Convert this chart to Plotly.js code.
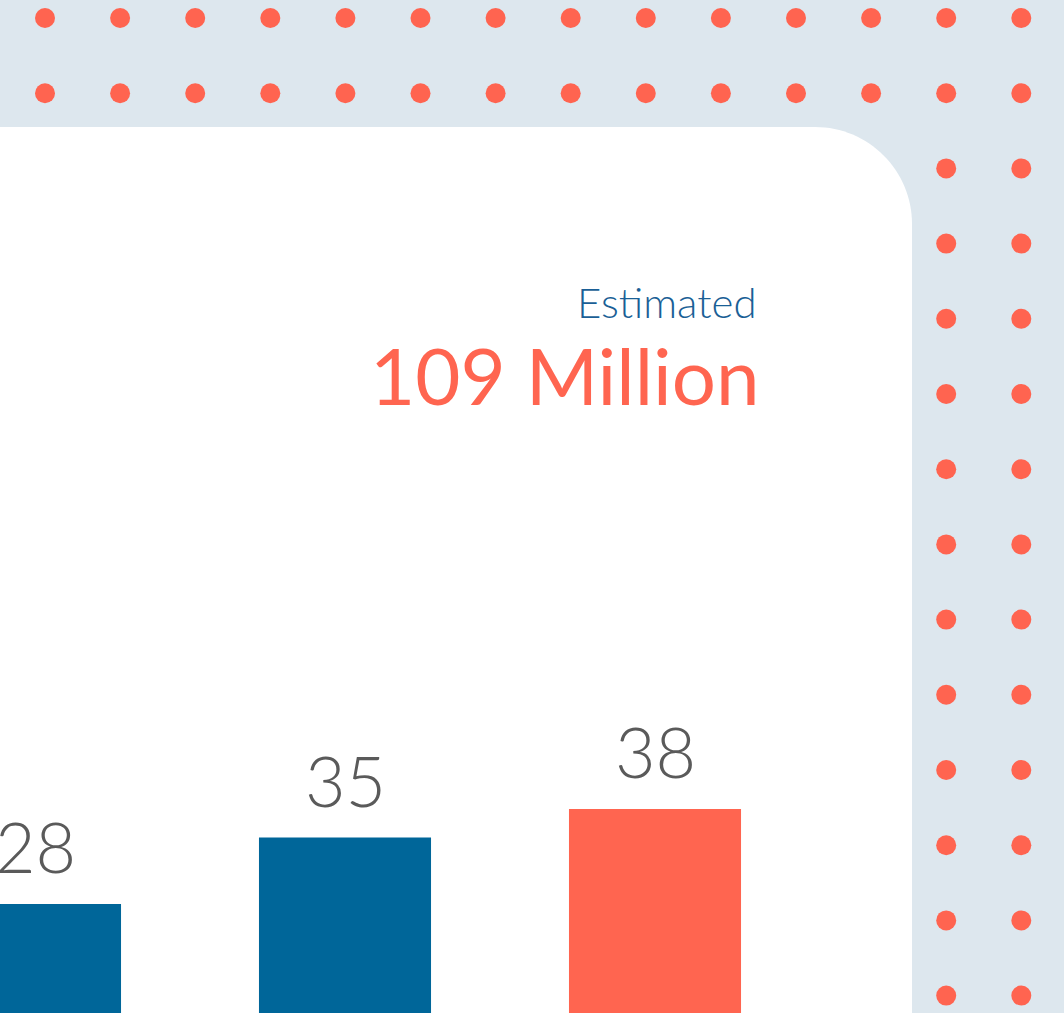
<!DOCTYPE html>
<html>
<head>
<meta charset="utf-8">
<script src="https://cdn.plot.ly/plotly-3.0.1.min.js"></script>
<style>html,body{margin:0;padding:0;background:#dde7ee;}#chart{width:1064px;height:1013px;}</style>
</head>
<body>
<div id="chart"></div>
<script>
// Data (visible part of the chart)
const categories = ["Year 1", "Year 2", "Year 3"];
const values = [28, 35, 38];
const barColors = ["#006699", "#006699", "#ff6550"];
const headlineLabel = "Estimated";
const headlineValue = "109 Million";

(function () {
const W = 1064, H = 1013;
const px = x => x / W;
const py = y => (H - y) / H;

const shapes = [];
// decorative dot pattern
for (let i = 0; i < 14; i++) {
  for (let j = 0; j < 14; j++) {
    const cx = 45 + 75.1 * i, cy = 18 + 75.2 * j, r = 10;
    shapes.push({type: 'circle', xref: 'paper', yref: 'paper', layer: 'below',
      x0: px(cx - r), x1: px(cx + r), y0: py(cy + r), y1: py(cy - r),
      fillcolor: '#ff6450', line: {width: 0}});
  }
}
// white panel with rounded top-right corner
const R = 97, k = 0.5523, pTop = 127, pRight = 912;
const pth = `M ${px(-5)},${py(pTop)} L ${px(pRight - R)},${py(pTop)} ` +
  `C ${px(pRight - R + k * R)},${py(pTop)} ${px(pRight)},${py(pTop + R - k * R)} ${px(pRight)},${py(pTop + R)} ` +
  `L ${px(pRight)},${py(H + 5)} L ${px(-5)},${py(H + 5)} Z`;
shapes.push({type: 'path', xref: 'paper', yref: 'paper', layer: 'below', path: pth,
  fillcolor: '#ffffff', line: {width: 0}});

const annotations = categories.map((c, i) => ({
  x: c, y: values[i], xref: 'x', yref: 'y', text: String(values[i]),
  showarrow: false, yanchor: 'bottom', yshift: 14,
  font: {family: 'Lato, sans-serif', size: 70, color: '#5a5a5a', weight: 300}
}));
annotations.push({x: px(759), y: py(302), xref: 'paper', yref: 'paper', xanchor: 'right', yanchor: 'middle',
  text: headlineLabel, showarrow: false,
  font: {family: 'Lato, sans-serif', size: 42, color: '#1a5f96', weight: 300}});
annotations.push({x: px(762), y: py(375), xref: 'paper', yref: 'paper', xanchor: 'right', yanchor: 'middle',
  text: headlineValue, showarrow: false,
  font: {family: 'Lato, sans-serif', size: 78, color: '#ff6550', weight: 400}});

const trace = {type: 'bar', x: categories, y: values, marker: {color: barColors, line: {width: 0}},
  width: 0.555, hoverinfo: 'skip'};

const pxPerUnit = 9.5, zeroPx = 1170;
const yBottom = (zeroPx - H) / pxPerUnit;
const yTop = yBottom + H / pxPerUnit;
const xLeft = -35 / 310, xRight = (W - 35) / 310;

const layout = {
  width: W, height: H, margin: {l: 0, r: 0, t: 0, b: 0, pad: 0},
  paper_bgcolor: '#dde7ee', plot_bgcolor: 'rgba(0,0,0,0)',
  showlegend: false,
  xaxis: {type: 'category', range: [xLeft, xRight], showgrid: false, zeroline: false, showticklabels: false, showline: false, ticks: ''},
  yaxis: {range: [yBottom, yTop], showgrid: false, zeroline: false, showticklabels: false, showline: false, ticks: ''},
  shapes: shapes, annotations: annotations
};
Plotly.newPlot('chart', [trace], layout, {displayModeBar: false, staticPlot: true});
})();
</script>
</body>
</html>
